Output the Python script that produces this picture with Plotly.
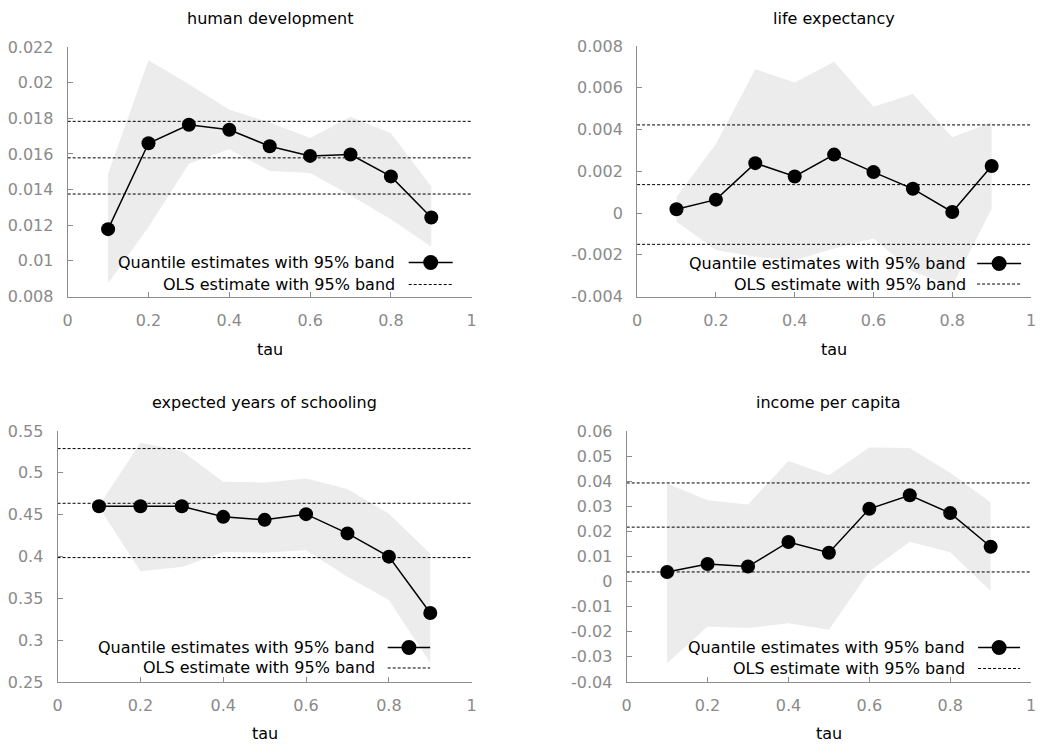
import plotly.graph_objects as go

tau = [0.1, 0.2, 0.3, 0.4, 0.5, 0.6, 0.7, 0.8, 0.9]

titles = ["human development", "life expectancy", "expected years of schooling", "income per capita"]

# human development
hd_est = [0.01178, 0.0166, 0.01764, 0.01736, 0.01643, 0.01589, 0.01597, 0.01474, 0.01243]
hd_hi = [0.01489, 0.02126, 0.01991, 0.01848, 0.01777, 0.0169, 0.01809, 0.01716, 0.01418]
hd_lo = [0.00874, 0.0119, 0.01545, 0.01626, 0.01504, 0.01493, 0.01368, 0.01234, 0.01079]
hd_ols = [0.01375, 0.01578, 0.01783]

# life expectancy
le_est = [0.00018, 0.00064, 0.00239, 0.00175, 0.0028, 0.00196, 0.00116, 0.00005, 0.00225]
le_hi = [0.00077, 0.00331, 0.00689, 0.00625, 0.00725, 0.00509, 0.0057, 0.00363, 0.00435]
le_lo = [-0.00042, -0.00177, -0.0021, -0.00226, -0.0017, -0.00122, -0.0028, -0.0035, 0.0002]
le_ols = [-0.0015, 0.00136, 0.00422]

# expected years of schooling
ys_est = [0.4601, 0.4601, 0.46, 0.4474, 0.4438, 0.4506, 0.4276, 0.3998, 0.3325]
ys_hi = [0.4608, 0.5361, 0.5262, 0.4894, 0.4886, 0.4933, 0.4807, 0.451, 0.4034]
ys_lo = [0.4589, 0.3824, 0.3876, 0.4054, 0.4046, 0.4074, 0.3757, 0.348, 0.2727]
ys_ols = [0.3987, 0.4636, 0.529]

# income per capita
ic_est = [0.00384, 0.0070, 0.0060, 0.0158, 0.0115, 0.029, 0.0344, 0.0273, 0.0139]
ic_hi = [0.0391, 0.0324, 0.0307, 0.0481, 0.0424, 0.0534, 0.0532, 0.0434, 0.0315]
ic_lo = [-0.0325, -0.0179, -0.0185, -0.0166, -0.0192, 0.004, 0.0159, 0.0117, -0.0037]
ic_ols = [0.00384, 0.0217, 0.0393]

x_ticks = [0, 0.2, 0.4, 0.6, 0.8, 1]
x_ticklabels = ["0", "0.2", "0.4", "0.6", "0.8", "1"]

y_ticks = [
    [0.008, 0.01, 0.012, 0.014, 0.016, 0.018, 0.02, 0.022],
    [-0.004, -0.002, 0, 0.002, 0.004, 0.006, 0.008],
    [0.25, 0.3, 0.35, 0.4, 0.45, 0.5, 0.55],
    [-0.04, -0.03, -0.02, -0.01, 0, 0.01, 0.02, 0.03, 0.04, 0.05, 0.06],
]
y_ticklabels = [
    ["0.008", "0.01", "0.012", "0.014", "0.016", "0.018", "0.02", "0.022"],
    ["-0.004", "-0.002", "0", "0.002", "0.004", "0.006", "0.008"],
    ["0.25", "0.3", "0.35", "0.4", "0.45", "0.5", "0.55"],
    ["-0.04", "-0.03", "-0.02", "-0.01", "0", "0.01", "0.02", "0.03", "0.04", "0.05", "0.06"],
]

legend_q = "Quantile estimates with 95% band"
legend_o = "OLS estimate with 95% band"
x_title = "tau"

panels = [
    (hd_est, hd_hi, hd_lo, hd_ols),
    (le_est, le_hi, le_lo, le_ols),
    (ys_est, ys_hi, ys_lo, ys_ols),
    (ic_est, ic_hi, ic_lo, ic_ols),
]

W, H = 1045, 749
# page-pixel geometry of plot areas: (left, right, top, bottom)
areas = [(63.3, 471.2, 39, 295), (638.2, 1036, 38, 295), (53.1, 471.2, 433, 690.5), (627.7, 1036, 433, 690.5)]
# title centre above plot top, 'tau' centre below plot bottom
title_gap = [29.5, 28.5, 29.5, 29.5]
tau_gap = [54.5, 54.5, 53, 53]
# legend: (text right gap, sample start gap, sample end gap) from right edge; line heights above bottom
leg = [(75, 63, 19, 34, 12), (63, 54, 10, 33, 12.5), (95, 84, 41.5, 34.5, 14), (64, 53, 11, 34.5, 13.5)]

BAND = "#ececec"
GRAY = "#8a8a8a"
AX = "#8c8c8c"
FONT = "DejaVu Sans"
FS = 16

fig = go.Figure()
layout = dict(
    width=W, height=H, margin=dict(l=0, r=0, t=0, b=0),
    paper_bgcolor="white", plot_bgcolor="white", showlegend=False,
    font=dict(family=FONT, size=FS, color="black"),
)
annotations = []
shapes = []

for i, (est, hi, lo, ols) in enumerate(panels):
    n = i + 1
    xa = "x" if n == 1 else f"x{n}"
    ya = "y" if n == 1 else f"y{n}"
    l, r, t, b = areas[i]
    layout["xaxis" if n == 1 else f"xaxis{n}"] = dict(
        domain=[l / W, r / W], range=[0, 1], anchor=ya,
        tickvals=x_ticks, ticktext=x_ticklabels, ticks="inside", ticklen=5,
        tickcolor=AX, showline=True, linecolor=AX, linewidth=1, showgrid=False,
        zeroline=False, tickfont=dict(family=FONT, size=FS, color=GRAY),
        ticklabelstandoff=9, ticklabeloverflow="allow",
    )
    yr = [y_ticks[i][0], y_ticks[i][-1]]
    layout["yaxis" if n == 1 else f"yaxis{n}"] = dict(
        domain=[1 - b / H, 1 - t / H], range=yr, anchor=xa,
        tickvals=y_ticks[i], ticktext=y_ticklabels[i], ticks="inside", ticklen=5,
        tickcolor=AX, showline=True, linecolor=AX, linewidth=1, showgrid=False,
        zeroline=False, tickfont=dict(family=FONT, size=FS, color=GRAY),
        ticklabelstandoff=10, ticklabeloverflow="allow",
    )
    # band
    fig.add_trace(go.Scatter(
        x=tau + tau[::-1], y=hi + lo[::-1], fill="toself", fillcolor=BAND,
        line=dict(width=0), mode="lines", hoverinfo="skip", xaxis=xa, yaxis=ya))
    # OLS lines
    for v in ols:
        fig.add_trace(go.Scatter(
            x=[0, 1], y=[v, v], mode="lines",
            line=dict(color="black", width=1, dash="3px,2px"), xaxis=xa, yaxis=ya))
    # quantile estimates
    fig.add_trace(go.Scatter(
        x=tau, y=est, mode="lines+markers",
        line=dict(color="black", width=1.5),
        marker=dict(color="black", size=14), xaxis=xa, yaxis=ya))

    # titles
    cx = (l + r) / 2 / W
    annotations.append(dict(text=titles[i], x=cx, y=1 - (t - title_gap[i]) / H, xref="paper", yref="paper",
                            showarrow=False, xanchor="center", yanchor="middle",
                            font=dict(family=FONT, size=FS, color="black")))
    annotations.append(dict(text=x_title, x=cx, y=1 - (b + tau_gap[i]) / H, xref="paper", yref="paper",
                            showarrow=False, xanchor="center", yanchor="middle",
                            font=dict(family=FONT, size=FS, color="black")))
    # legend
    tg, s0, s1, h1, h2 = leg[i]
    for txt, hh in ((legend_q, h1), (legend_o, h2)):
        annotations.append(dict(text=txt, x=1, y=0, xref=f"{xa} domain", yref=f"{ya} domain",
                                xshift=-tg, yshift=hh, showarrow=False, xanchor="right",
                                yanchor="middle", font=dict(family=FONT, size=FS, color="black")))
    shapes.append(dict(type="line", xref=f"{xa} domain", yref=f"{ya} domain",
                       xsizemode="pixel", ysizemode="pixel", xanchor=1, yanchor=0,
                       x0=-s0, x1=-s1, y0=h1, y1=h1, line=dict(color="black", width=1.5)))
    cxm = -(s0 + s1) / 2
    shapes.append(dict(type="circle", xref=f"{xa} domain", yref=f"{ya} domain",
                       xsizemode="pixel", ysizemode="pixel", xanchor=1, yanchor=0,
                       x0=cxm - 7.5, x1=cxm + 7.5, y0=h1 - 7.5, y1=h1 + 7.5,
                       fillcolor="black", line=dict(color="black", width=0)))
    shapes.append(dict(type="line", xref=f"{xa} domain", yref=f"{ya} domain",
                       xsizemode="pixel", ysizemode="pixel", xanchor=1, yanchor=0,
                       x0=-s0, x1=-s1, y0=h2, y1=h2,
                       line=dict(color="black", width=1, dash="3px,2px")))

layout["annotations"] = annotations
layout["shapes"] = shapes
fig.update_layout(**layout)
fig.write_html(
    "out.html",
    config={"displayModeBar": False},
    post_script="document.body.style.margin='0';document.body.style.overflow='hidden';",
)
